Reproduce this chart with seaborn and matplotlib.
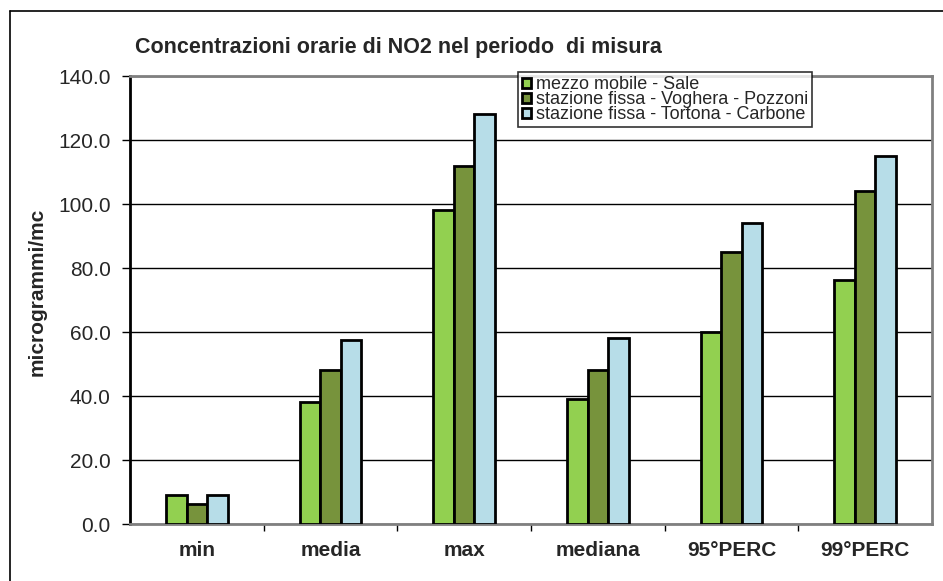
import pandas as pd
import seaborn as sns
import matplotlib.pyplot as plt
from matplotlib.ticker import FormatStrFormatter, FixedLocator
from matplotlib.lines import Line2D

categorie = ["min", "media", "max", "mediana", "95°PERC", "99°PERC"]
serie = ["mezzo mobile - Sale",
         "stazione fissa - Voghera - Pozzoni",
         "stazione fissa - Tortona - Carbone"]
sale = [9.0, 38.2, 98.1, 39.0, 60.0, 76.2]
voghera = [6.2, 48.0, 112.0, 48.0, 85.0, 104.0]
tortona = [9.0, 57.5, 128.0, 58.2, 94.0, 115.0]
colori = ["#92D050", "#77933C", "#B7DDE8"]

df = pd.DataFrame({
    "categoria": categorie * 3,
    "serie": [serie[0]] * 6 + [serie[1]] * 6 + [serie[2]] * 6,
    "valore": sale + voghera + tortona,
})

sns.set_style("white")
plt.rcParams["font.family"] = ["Liberation Sans", "DejaVu Sans"]

fig = plt.figure(figsize=(9.43, 5.81), dpi=100)
ax = fig.add_axes([0.1379, 0.0981, 0.8505, 0.771])

sns.barplot(data=df, x="categoria", y="valore", hue="serie", order=categorie,
            hue_order=serie, palette=colori, width=0.46, edgecolor="black",
            linewidth=2, saturation=1, ax=ax, zorder=3)

ax.set_ylim(0, 140)
ax.set_xlim(-0.5, len(categorie) - 0.5)
ax.set_yticks(range(0, 141, 20))
ax.yaxis.set_major_formatter(FormatStrFormatter("%.1f"))
ax.grid(axis="y", color="black", linewidth=1, zorder=0)
ax.set_axisbelow(True)

for lato in ["top", "right", "bottom"]:
    ax.spines[lato].set_color("#808080")
    ax.spines[lato].set_linewidth(2)
ax.spines["left"].set_color("black")
ax.spines["left"].set_linewidth(2)

ax.tick_params(axis="y", direction="out", length=6, width=1, color="black",
               left=True, labelsize=15, pad=8)
ax.tick_params(axis="x", which="major", length=0, labelsize=15, pad=12)
ax.xaxis.set_minor_locator(FixedLocator([i + 0.5 for i in range(len(categorie) - 1)]))
ax.tick_params(axis="x", which="minor", direction="out", length=5, width=1,
               color="black", bottom=True)
for t in ax.get_xticklabels():
    t.set_fontweight("bold")

ax.set_xlabel("")
ax.set_ylabel("microgrammi/mc", fontsize=15, fontweight="bold")
ax.yaxis.set_label_coords(-0.104, 0.518)

fig.text(0.143, 0.918, "Concentrazioni orarie di NO2 nel periodo  di misura",
         fontsize=15.5, fontweight="bold", va="center", ha="left")

leg = ax.legend(loc="upper left", bbox_to_anchor=(0.484, 1.008), frameon=True,
                fancybox=False, edgecolor="black", fontsize=13,
                handlelength=0.5, handleheight=0.5, handletextpad=0.3,
                labelspacing=-0.1, borderpad=0.2, borderaxespad=0)
leg.get_frame().set_linewidth(1.2)
leg.set_zorder(5)

# cornice esterna
fig.add_artist(Line2D([0.0106, 0.0106], [0.981, 0.0], color="black", linewidth=1.2))
fig.add_artist(Line2D([0.0106, 1.0], [0.981, 0.981], color="black", linewidth=1.2))

fig.savefig("out.png", dpi=100)
